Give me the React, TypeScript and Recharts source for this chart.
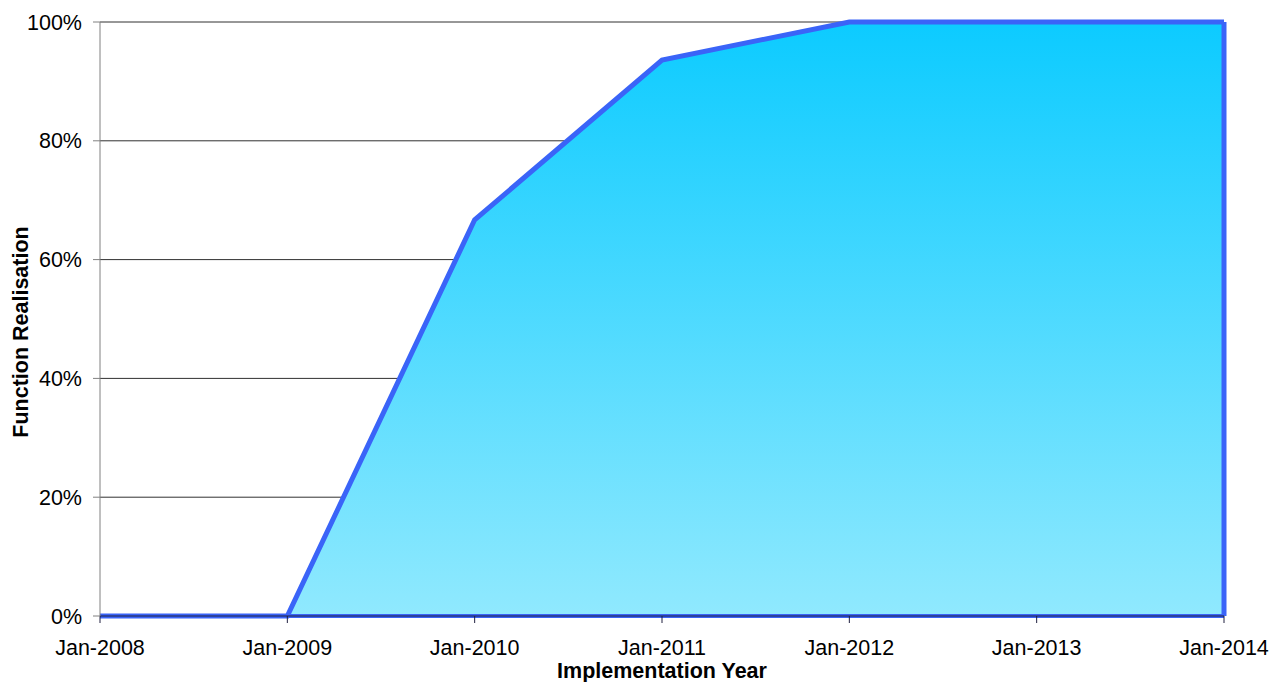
import React from 'react';
import { AreaChart, Area, XAxis, YAxis, CartesianGrid, ReferenceLine, Label } from 'recharts';

const years = ['Jan-2008', 'Jan-2009', 'Jan-2010', 'Jan-2011', 'Jan-2012', 'Jan-2013', 'Jan-2014'];
const realisation = [0, 0, 66.7, 93.6, 100, 100, 100];
const yTicks = [0, 20, 40, 60, 80, 100];

const data = years.map((name, i) => ({ name, value: realisation[i] }));

const font = 'Liberation Sans, Arial, sans-serif';
const stroke = '#3a64f8';
const fs = 21.5;

const YTitle = ({ viewBox }: any) => {
  const x = viewBox.x + 20;
  const y = viewBox.y + viewBox.height / 2 + 13;
  return (
    <text x={x} y={y} transform={`rotate(-90, ${x}, ${y})`} textAnchor="middle"
      fontFamily={font} fontSize={fs} fontWeight="bold" fill="#000">
      Function Realisation
    </text>
  );
};

export default function App() {
  return (
    <div style={{ position: 'absolute', left: 0, top: 0, width: 1272, height: 682, fontFamily: font }}>
      <AreaChart width={1272} height={682} data={data} margin={{ top: 22, right: 48, left: 8, bottom: 0 }}>
        <defs>
          <linearGradient id="fillGrad" x1="0" y1="0" x2="0" y2="1">
            <stop offset="0%" stopColor="#0ccbff" />
            <stop offset="100%" stopColor="#90e9fe" />
          </linearGradient>
        </defs>
        <CartesianGrid vertical={false} stroke="#303030" strokeWidth={1} />
        <XAxis
          dataKey="name"
          interval={0}
          tickSize={7}
          tickMargin={17}
          stroke="#202040"
          fontSize={fs}
          fontFamily={font}
          tick={{ fill: '#000', fontSize: fs }}
          height={66}
        >
          <Label value="Implementation Year" position="insideBottom" offset={4} fill="#000" fontSize={fs} fontWeight="bold" fontFamily={font} />
        </XAxis>
        <YAxis
          domain={[0, 100]}
          ticks={yTicks}
          width={92}
          tickSize={7}
          tickMargin={11}
          stroke="#808080"
          fontSize={fs}
          fontFamily={font}
          tickFormatter={(v: number) => `${v}%`}
          tick={{ fill: '#000', fontSize: fs }}
        >
          <Label content={YTitle} />
        </YAxis>
        <Area
          type="linear"
          dataKey="value"
          stroke={stroke}
          strokeWidth={5}
          fill="url(#fillGrad)"
          fillOpacity={1}
          isAnimationActive={false}
        />
        <ReferenceLine x="Jan-2014" stroke={stroke} strokeWidth={5} />
        <ReferenceLine y={0} stroke={stroke} strokeWidth={4} />
      </AreaChart>
    </div>
  );
}
